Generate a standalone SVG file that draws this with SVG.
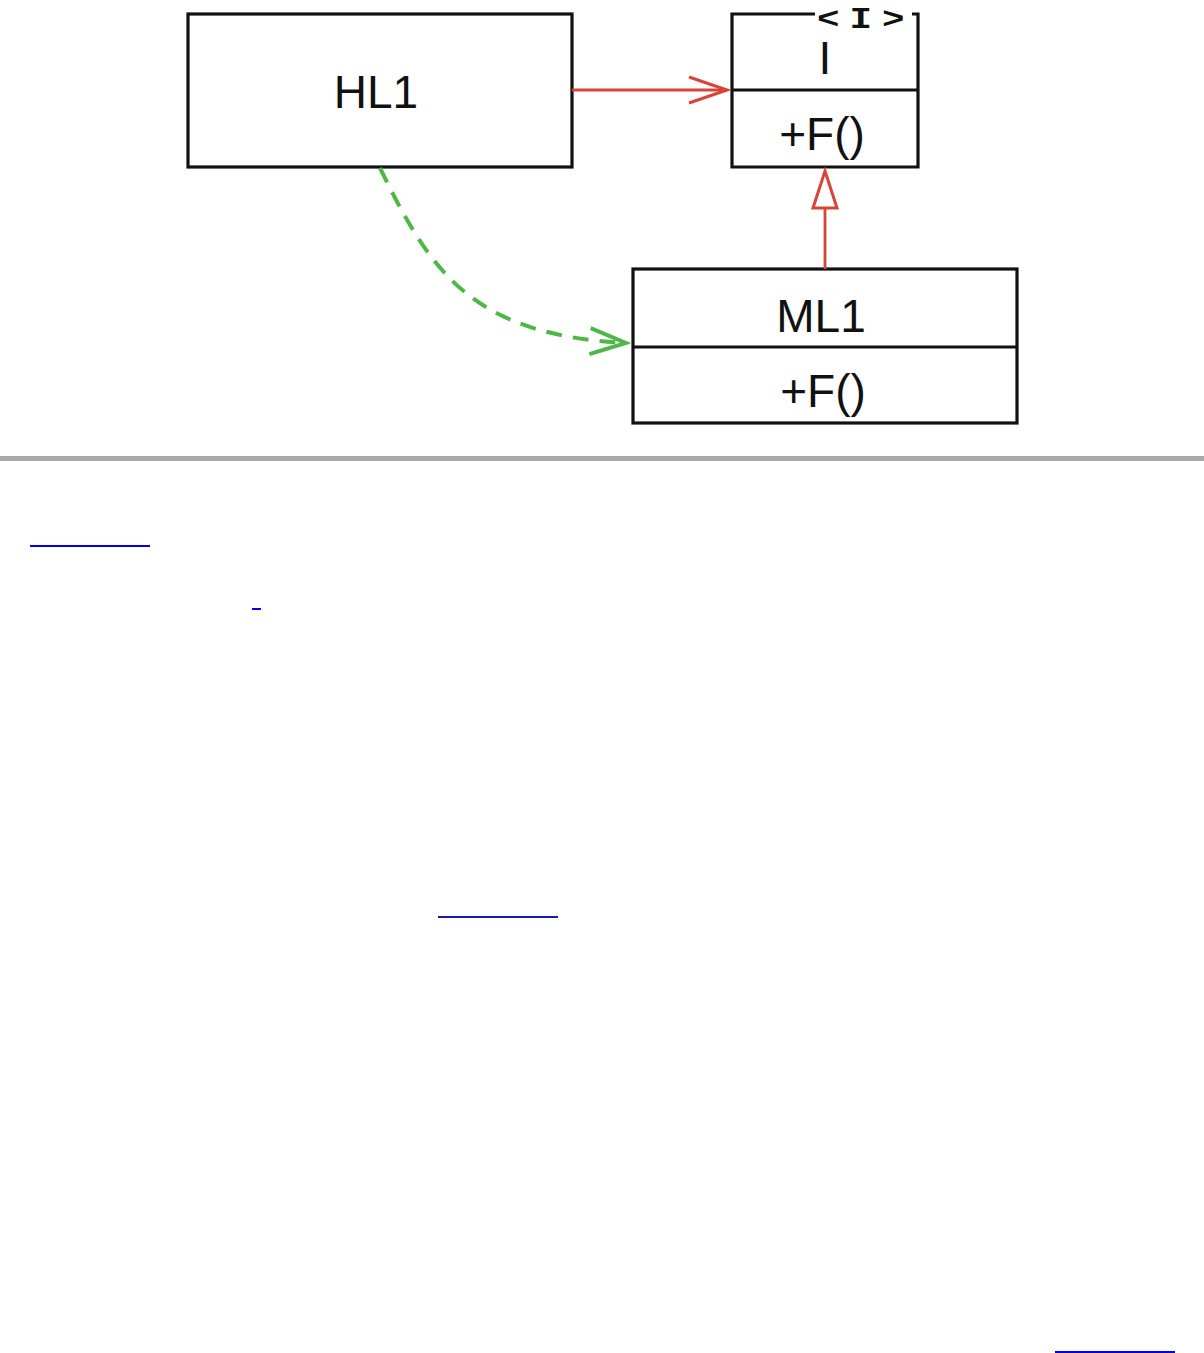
<svg xmlns="http://www.w3.org/2000/svg" width="1204" height="1353" viewBox="0 0 1204 1353">
<style>
.box{fill:#fff;stroke:#111;stroke-width:3.2}
.ln{fill:none;stroke:#111;stroke-width:3.2}
.t{font-family:"Liberation Sans",Arial,sans-serif;font-size:46px;fill:#111;text-anchor:middle}
.red{fill:none;stroke:#d8443a;stroke-width:2.8}
.green{fill:none;stroke:#4db848;stroke-width:4;stroke-dasharray:16 11}
</style>
<defs>
<marker id="openRed" markerUnits="userSpaceOnUse" markerWidth="44" markerHeight="30" refX="40" refY="15" orient="auto" viewBox="0 0 44 30">
<path d="M2,2 L40,15 L2,28" fill="none" stroke="#d8443a" stroke-width="3"/>
</marker>
<marker id="openGreen" markerUnits="userSpaceOnUse" markerWidth="44" markerHeight="30" refX="40" refY="15" orient="auto" viewBox="0 0 44 30">
<path d="M4,2 L40,15 L4,28" fill="none" stroke="#4db848" stroke-width="4"/>
</marker>
</defs>
<rect width="1204" height="1353" fill="#fff"/>
<g id="HL1">
<rect class="box" x="188" y="14" width="384" height="153"/>
<text class="t" x="376" y="108">HL1</text>
</g>
<g id="I">
<path class="ln" d="M815,14 H732 V167 H918 V14 H912"/>
<line class="ln" x1="732" y1="90" x2="918" y2="90"/>
<text transform="translate(817 28) scale(1.25 1)" x="0" y="0" textLength="70" lengthAdjust="spacing" style="font-family:'Liberation Mono','DejaVu Sans Mono',monospace;font-weight:bold;font-size:30px;fill:#111">&lt;I&gt;</text>
<text class="t" x="825" y="74">I</text>
<text class="t" x="822" y="150">+F()</text>
</g>
<g id="ML1">
<rect class="box" x="633" y="269" width="384" height="154"/>
<line class="ln" x1="633" y1="347" x2="1017" y2="347"/>
<text class="t" x="821" y="332">ML1</text>
<text class="t" x="823" y="407">+F()</text>
</g>
<g id="connectors">
<line class="red" x1="572" y1="90" x2="727" y2="90" marker-end="url(#openRed)"/>
<line class="red" x1="825" y1="269" x2="825" y2="208"/>
<path d="M825,171 L837,208 L813,208 Z" fill="#fff" stroke="#d8443a" stroke-width="3" stroke-linejoin="miter"/>
<path class="green" d="M380,168 C430,270 470,335 626,343" marker-end="url(#openGreen)"/>
</g>
<rect x="0" y="456" width="1204" height="5" fill="#a9a9ab"/>
<rect x="30" y="545" width="120" height="2" fill="#0000ee"/>
<rect x="252" y="608" width="9" height="2" fill="#0000ee"/>
<rect x="438" y="916" width="120" height="2" fill="#1a1aa8"/>
<rect x="1055" y="1351" width="120" height="2" fill="#0000ee"/>
</svg>
